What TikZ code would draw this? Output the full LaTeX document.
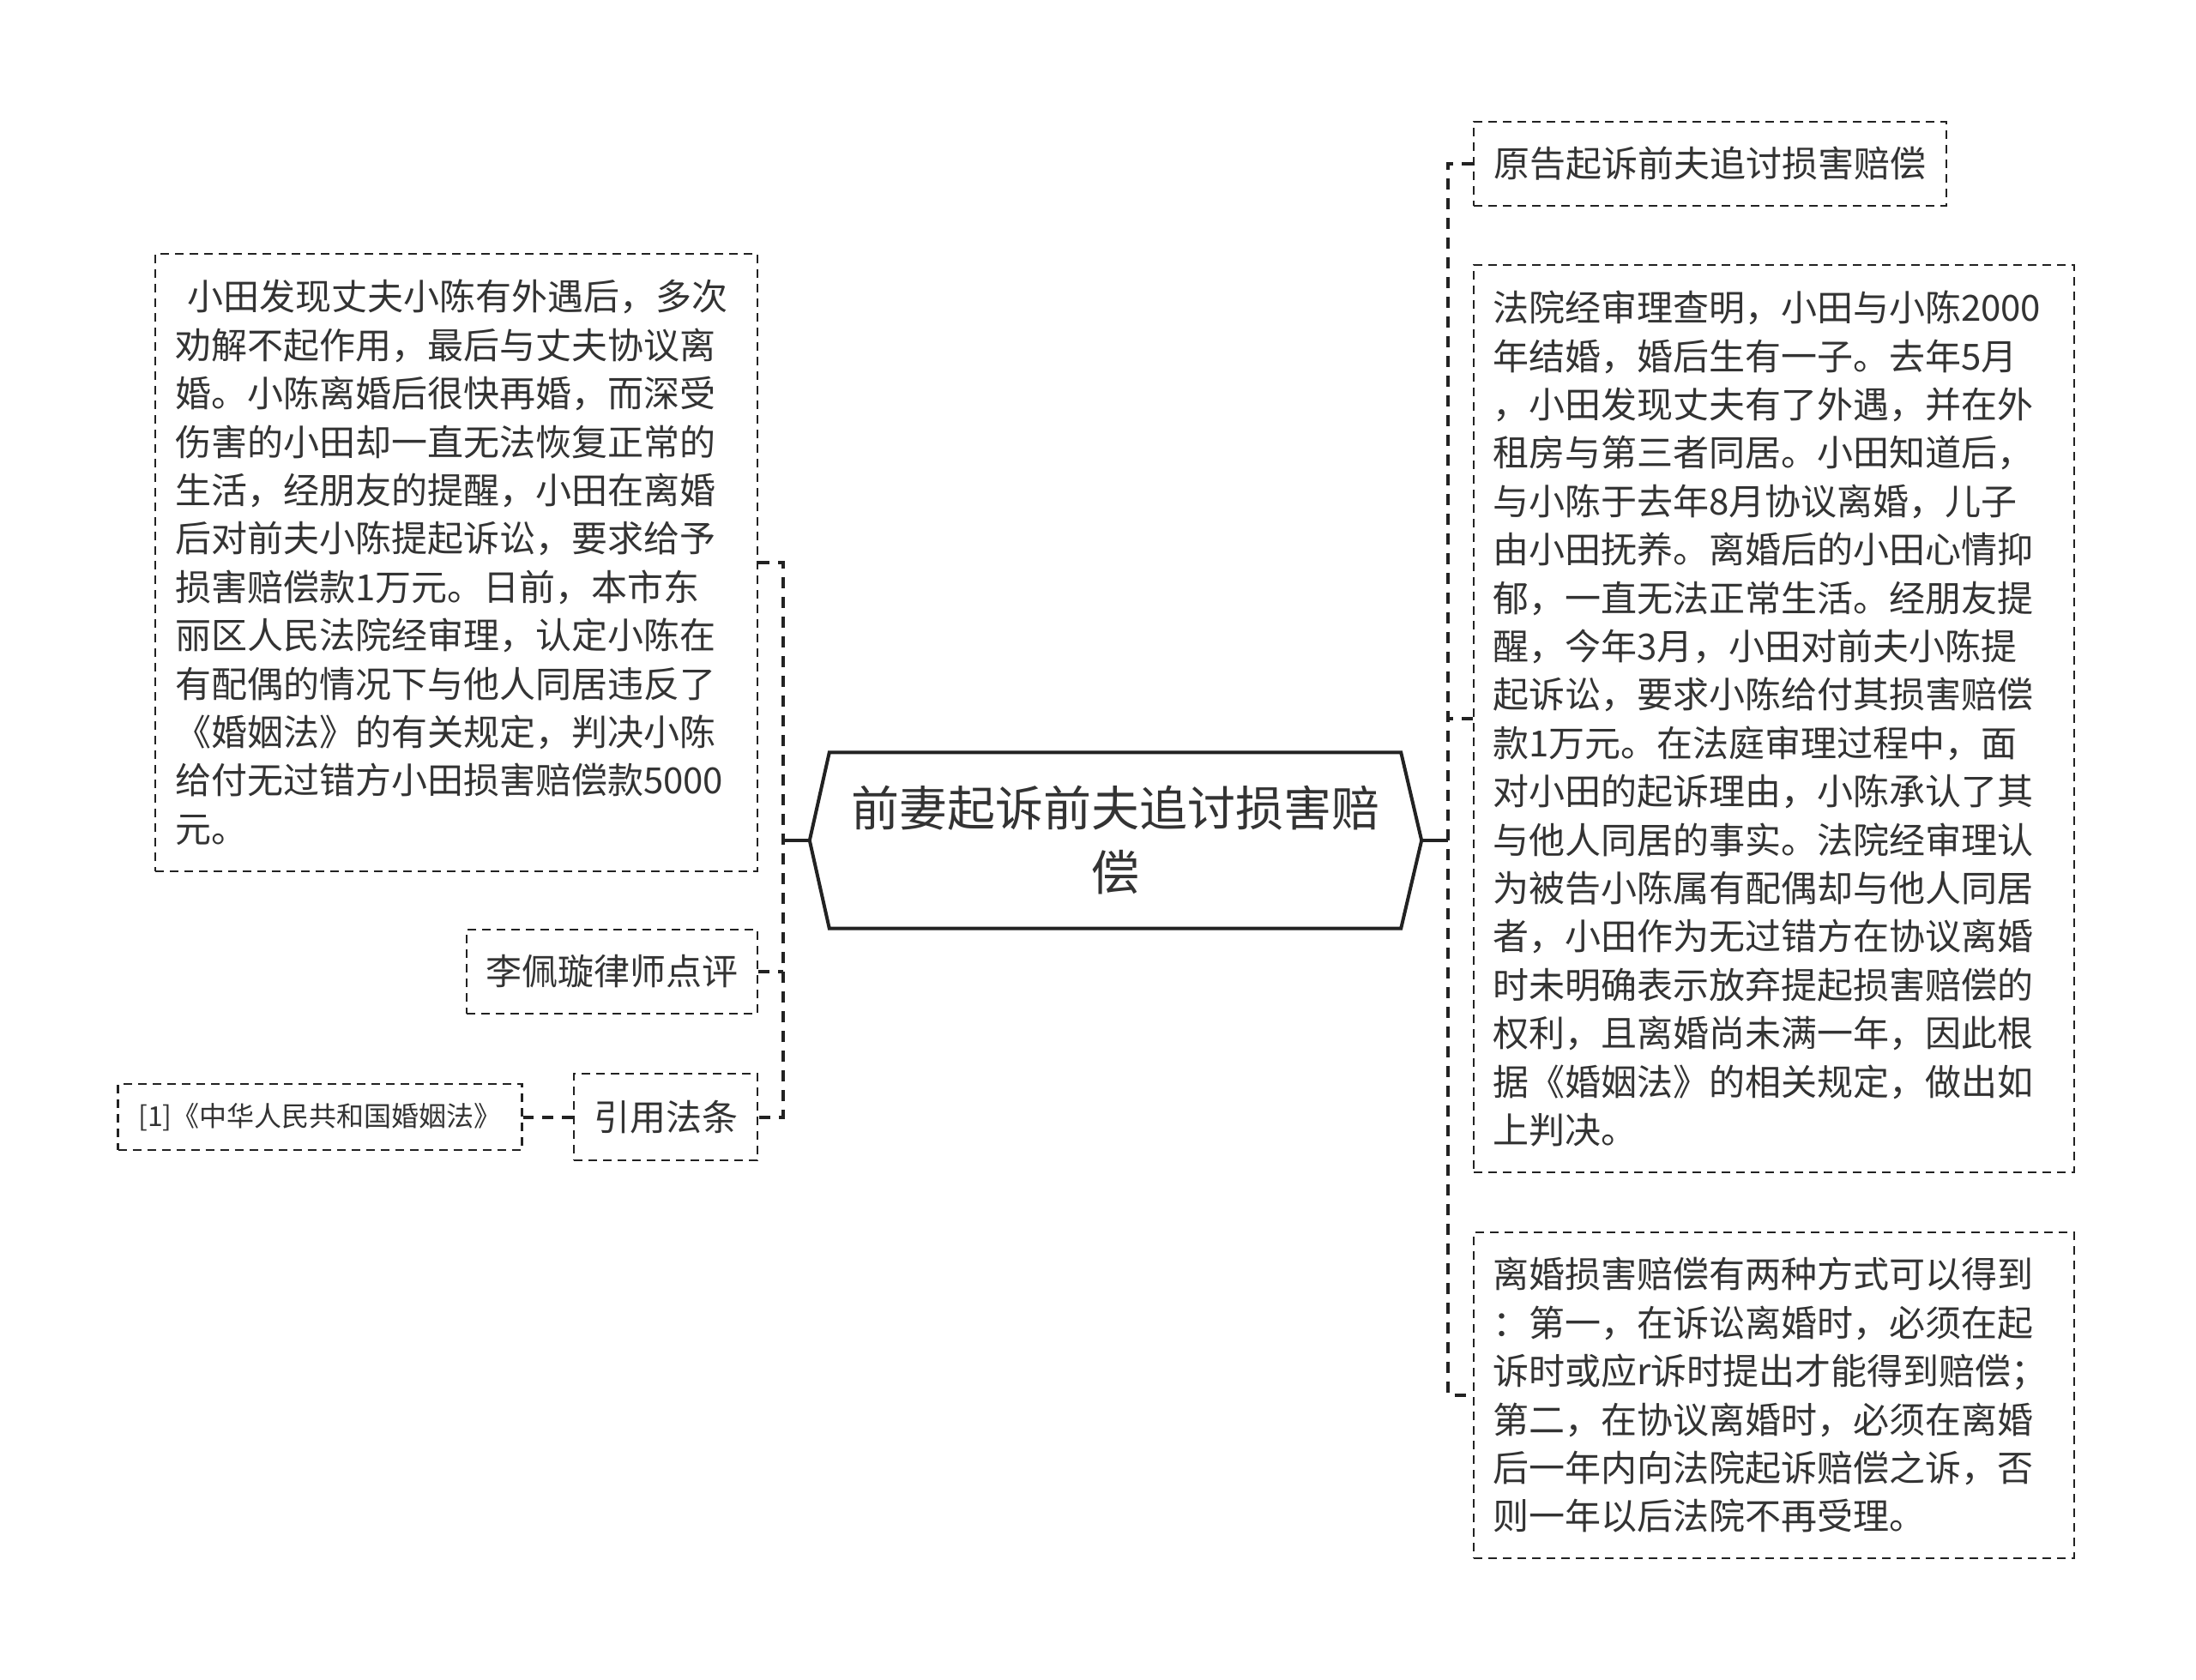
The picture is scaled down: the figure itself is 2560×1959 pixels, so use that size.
\documentclass[tikz,border=0pt]{standalone}
\usepackage{fontspec}
\setmainfont{Noto Sans CJK SC}
\usetikzlibrary{positioning}
\definecolor{ink}{HTML}{333333}
\definecolor{wire}{HTML}{222222}
\tikzset{
topic/.style={minimum width=666pt, minimum height=205pt, align=center, text=ink, font=\fontsize{56}{75}\selectfont}, % the middle node, its outline is drawn by hand
topicline/.style={draw=wire, line width=4pt, line join=miter}, % outline of the middle node
leaf/.style={draw=wire, line width=2.4pt, dash pattern=on 10pt off 7pt, text=ink, inner sep=0pt, font=\fontsize{42}{56.4}\selectfont}, % every dashed box
para/.style={leaf, align=left, text width=656pt}, % boxes holding a long text
link/.style={draw=wire, line width=4pt, dash pattern=on 13pt off 10pt}, % dashed connectors
stub/.style={draw=wire, line width=4pt}, % short solid piece next to the middle node
}
\begin{document}
\begin{tikzpicture}[x=1pt, y=-1pt]
    \useasboundingbox (0,0) rectangle (2560,1959);
    \node[topic] (root) at (1300,980) {前妻起诉前夫追讨损害赔\\偿};
    \coordinate (tipL) at ([xshift=-23pt]root.west);
    \coordinate (tipR) at ([xshift=24pt]root.east);
    \coordinate (hubL) at ([xshift=-54pt]root.west);
    \coordinate (hubR) at ([xshift=55pt]root.east);
    \draw[topicline] (root.north west) -- (root.north east) -- (tipR) -- (root.south east)
        -- (root.south west) -- (tipL) -- cycle;

    \node[para, minimum width=702pt, minimum height=720pt] (story) at (532,656)
        {\hspace*{14pt}小田发现丈夫小陈有外遇后，多次\\劝解不起作用，最后与丈夫协议离\\婚。小陈离婚后很快再婚，而深受\\伤害的小田却一直无法恢复正常的\\生活，经朋友的提醒，小田在离婚\\后对前夫小陈提起诉讼，要求给予\\损害赔偿款1万元。日前，本市东\\丽区人民法院经审理，认定小陈在\\有配偶的情况下与他人同居违反了\\《婚姻法》的有关规定，判决小陈\\给付无过错方小田损害赔偿款5000\\元。};
    \node[leaf, minimum width=339pt, minimum height=98pt] (review) at (713.5,1133) {李佩璇律师点评};
    \node[leaf, minimum width=214pt, minimum height=101pt] (cite) at (776,1302.5) {引用法条};
    \node[leaf, minimum width=471pt, minimum height=77pt, font=\fontsize{32}{40}\selectfont,
        left=58pt of cite] (law) {[1]《中华人民共和国婚姻法》};

    \node[leaf, minimum width=551pt, minimum height=98pt] (claim) at (1993.5,191) {原告起诉前夫追讨损害赔偿};
    \node[para, minimum width=700pt, minimum height=1058pt] (court) at (2068,838)
        {法院经审理查明，小田与小陈2000\\年结婚，婚后生有一子。去年5月\\，小田发现丈夫有了外遇，并在外\\租房与第三者同居。小田知道后，\\与小陈于去年8月协议离婚，儿子\\由小田抚养。离婚后的小田心情抑\\郁，一直无法正常生活。经朋友提\\醒，今年3月，小田对前夫小陈提\\起诉讼，要求小陈给付其损害赔偿\\款1万元。在法庭审理过程中，面\\对小田的起诉理由，小陈承认了其\\与他人同居的事实。法院经审理认\\为被告小陈属有配偶却与他人同居\\者，小田作为无过错方在协议离婚\\时未明确表示放弃提起损害赔偿的\\权利，且离婚尚未满一年，因此根\\据《婚姻法》的相关规定，做出如\\上判决。};
    \node[para, minimum width=700pt, minimum height=380pt] (ways) at (2068,1627)
        {离婚损害赔偿有两种方式可以得到\\：第一，在诉讼离婚时，必须在起\\诉时或应r诉时提出才能得到赔偿；\\第二，在协议离婚时，必须在离婚\\后一年内向法院起诉赔偿之诉，否\\则一年以后法院不再受理。};

    \draw[stub] (tipL) -- (hubL);
    \draw[stub] (tipR) -- (hubR);
    \draw[link] (story.east) -- (story.east -| hubL) -- (cite.east -| hubL) -- (cite.east);
    \draw[link] (review.east) -- (review.east -| hubL);
    \draw[link] (cite.west) -- (law.east);
    \draw[link] (claim.west) -- (claim.west -| hubR) -- (ways.west -| hubR) -- (ways.west);
    \draw[link] (court.west) -- (court.west -| hubR);
\end{tikzpicture}
\end{document}
